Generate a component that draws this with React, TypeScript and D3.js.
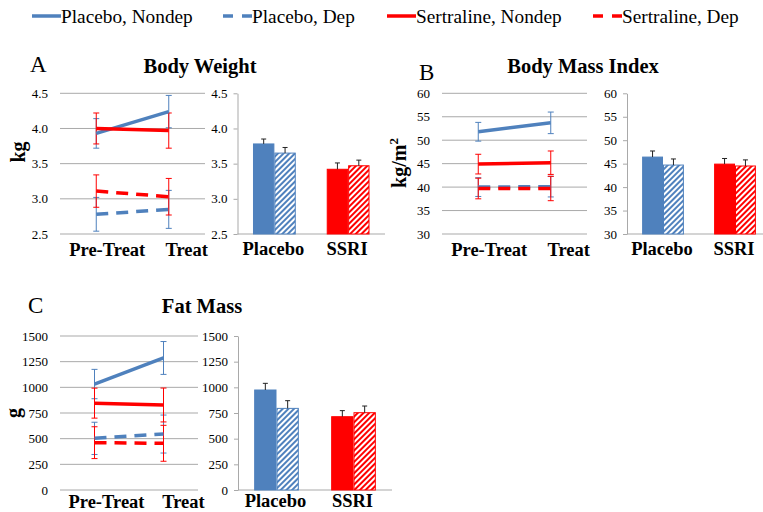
import { useEffect, useRef } from "react";
import * as d3 from "d3";

const seriesNames = ["Placebo, Nondep", "Placebo, Dep", "Sertraline, Nondep", "Sertraline, Dep"];
const seriesColors = ["#4f81bd", "#4f81bd", "#ff0000", "#ff0000"];
const seriesDashed = [false, true, false, true];
const timepoints = ["Pre-Treat", "Treat"];
const drugGroups = ["Placebo", "SSRI"];
const drugColors = ["#4f81bd", "#ff0000"];

// Body weight (kg), per series [pre, treat]
const weightMeans = [[3.93, 4.24], [2.78, 2.85], [4.0, 3.97], [3.11, 3.03]];
const weightErrs = [[0.21, 0.23], [0.24, 0.27], [0.22, 0.25], [0.23, 0.26]];
// bars per drug group [Nondep, Dep]
const weightBars = [[3.78, 3.65], [3.42, 3.47]];
const weightBarErrs = [[0.07, 0.08], [0.09, 0.08]];
const weightTicks = [2.5, 3.0, 3.5, 4.0, 4.5];

// Body mass index
const bmiMeans = [[51.8, 53.7], [40.0, 40.1], [44.9, 45.2], [39.7, 39.7]];
const bmiErrs = [[2.0, 2.3], [2.0, 2.2], [2.1, 2.5], [2.2, 2.6]];
const bmiBars = [[46.4, 44.7], [44.9, 44.5]];
const bmiBarErrs = [[1.3, 1.3], [1.2, 1.3]];
const bmiTicks = [30, 35, 40, 45, 50, 55, 60];

// Fat mass (g)
const fatMeans = [[1032, 1286], [503, 545], [846, 828], [461, 455]];
const fatErrs = [[143, 160], [157, 185], [146, 165], [155, 175]];
const fatBars = [[974, 795], [714, 753]];
const fatBarErrs = [[65, 75], [59, 65]];
const fatTicks = [0, 250, 500, 750, 1000, 1250, 1500];

const serif = "'Liberation Serif', 'Times New Roman', serif";
const gridColor = "#a9a9a9";

type Panel = {
    letter: string; title: string; ylabel: string; sup?: string;
    means: number[][]; errs: number[][]; bars: number[][]; barErrs: number[][];
    ticks: number[]; fmt: string;
    lineX: [number, number]; barX: [number, number]; top: number; bottom: number;
    letterPos: [number, number]; titlePos: [number, number]; ylabelPos: [number, number];
    labelY: number; labelDx: number[];
};

const panels: Panel[] = [
    {
        letter: "A", title: "Body Weight", ylabel: "kg",
        means: weightMeans, errs: weightErrs, bars: weightBars, barErrs: weightBarErrs,
        ticks: weightTicks, fmt: ".1f",
        lineX: [60, 205], barX: [237.5, 385], top: 93.3, bottom: 234,
        letterPos: [30, 72], titlePos: [200, 73], ylabelPos: [25, 152],
        labelY: 256, labelDx: [11, 18],
    },
    {
        letter: "B", title: "Body Mass Index", ylabel: "kg/m", sup: "2",
        means: bmiMeans, errs: bmiErrs, bars: bmiBars, barErrs: bmiBarErrs,
        ticks: bmiTicks, fmt: "d",
        lineX: [442, 587], barX: [627, 771], top: 93.3, bottom: 234,
        letterPos: [419, 80], titlePos: [583, 73], ylabelPos: [406, 163],
        labelY: 256, labelDx: [11, 18],
    },
    {
        letter: "C", title: "Fat Mass", ylabel: "g",
        means: fatMeans, errs: fatErrs, bars: fatBars, barErrs: fatBarErrs,
        ticks: fatTicks, fmt: "d",
        lineX: [60, 198], barX: [238, 392], top: 336, bottom: 490,
        letterPos: [28, 313], titlePos: [202, 313], ylabelPos: [20, 413],
        labelY: 508, labelDx: [12, 20],
    },
];

function drawPanel(svg: d3.Selection<SVGSVGElement, unknown, null, undefined>, p: Panel) {
    const y = d3.scaleLinear().domain([p.ticks[0], p.ticks[p.ticks.length - 1]]).range([p.bottom, p.top]);
    const x = d3.scalePoint<string>().domain(timepoints).range(p.lineX).padding(0.5);
    const xb = d3.scaleBand<string>().domain(drugGroups).range(p.barX);
    const g = svg.append("g");

    // panel letter and title
    g.append("text").attr("x", p.letterPos[0]).attr("y", p.letterPos[1])
        .attr("font-family", serif).attr("font-size", 23).text(p.letter);
    g.append("text").attr("x", p.titlePos[0]).attr("y", p.titlePos[1])
        .attr("text-anchor", "middle").attr("font-family", serif).attr("font-size", 20.5)
        .attr("font-weight", "bold").text(p.title);

    // y label
    const yl = g.append("text")
        .attr("transform", `translate(${p.ylabelPos[0]},${p.ylabelPos[1]}) rotate(-90)`)
        .attr("text-anchor", "middle").attr("font-family", serif).attr("font-size", 20)
        .attr("font-weight", "bold").text(p.ylabel);
    if (p.sup) {
        yl.append("tspan").attr("font-size", 13).attr("dy", -8).text(p.sup);
    }

    // line chart: gridlines
    g.append("g").selectAll("line").data(p.ticks).join("line")
        .attr("x1", p.lineX[0]).attr("x2", p.lineX[1])
        .attr("y1", d => y(d)).attr("y2", d => y(d))
        .attr("stroke", gridColor).attr("stroke-width", 1);

    const yAxis = g.append("g").attr("transform", `translate(${p.lineX[0]},0)`)
        .call(d3.axisLeft(y).tickValues(p.ticks).tickSize(0).tickPadding(12).tickFormat(d3.format(p.fmt)));
    yAxis.select(".domain").remove();
    yAxis.selectAll("text").attr("font-family", serif).attr("font-size", 13).attr("fill", "#000");

    // category labels
    g.append("g").selectAll("text").data(timepoints).join("text")
        .attr("x", (d, i) => (x(d) ?? 0) + p.labelDx[i]).attr("y", p.labelY)
        .attr("text-anchor", "middle").attr("font-family", serif).attr("font-size", 18.5)
        .attr("font-weight", "bold").text(d => d);

    // error bars
    p.means.forEach((row, si) => {
        const eg = g.append("g").attr("stroke", seriesColors[si]).attr("stroke-width", 1);
        row.forEach((m, ti) => {
            const cx = x(timepoints[ti]) ?? 0;
            const e = p.errs[si][ti];
            eg.append("line").attr("x1", cx).attr("x2", cx).attr("y1", y(m + e)).attr("y2", y(m - e));
            eg.append("line").attr("x1", cx - 3).attr("x2", cx + 3).attr("y1", y(m + e)).attr("y2", y(m + e));
            eg.append("line").attr("x1", cx - 3).attr("x2", cx + 3).attr("y1", y(m - e)).attr("y2", y(m - e));
        });
    });

    // lines
    const line = d3.line<number>().x((_, i) => x(timepoints[i]) ?? 0).y(d => y(d));
    p.means.forEach((row, si) => {
        g.append("path").datum(row).attr("d", line)
            .attr("fill", "none").attr("stroke", seriesColors[si]).attr("stroke-width", 3.5)
            .attr("stroke-dasharray", seriesDashed[si] ? "12,8" : null);
    });

    // bar chart axis
    const bAxis = g.append("g").attr("transform", `translate(${p.barX[0]},0)`)
        .call(d3.axisLeft(y).tickValues(p.ticks).tickSize(4).tickSizeOuter(0).tickPadding(6).tickFormat(d3.format(p.fmt)));
    bAxis.select(".domain").attr("stroke", gridColor);
    bAxis.selectAll(".tick line").attr("stroke", gridColor);
    bAxis.selectAll("text").attr("font-family", serif).attr("font-size", 13).attr("fill", "#000");
    g.append("line").attr("x1", p.barX[0]).attr("x2", p.barX[1])
        .attr("y1", p.bottom).attr("y2", p.bottom).attr("stroke", gridColor);

    const bw = xb.bandwidth() * 0.29;
    p.bars.forEach((pair, ci) => {
        const cx = (xb(drugGroups[ci]) ?? 0) + xb.bandwidth() / 2;
        pair.forEach((v, k) => {
            const x0 = cx - bw + k * bw;
            g.append("rect").attr("x", x0 + 0.5).attr("y", y(v)).attr("width", bw - 1).attr("height", y(p.ticks[0]) - y(v))
                .attr("fill", k === 0 ? drugColors[ci] : `url(#hatch${ci})`)
                .attr("stroke", drugColors[ci]).attr("stroke-width", 1);
            const bx = x0 + bw / 2;
            const top = y(v + p.barErrs[ci][k]);
            g.append("line").attr("x1", bx).attr("x2", bx).attr("y1", y(v)).attr("y2", top).attr("stroke", "#222");
            g.append("line").attr("x1", bx - 2.5).attr("x2", bx + 2.5).attr("y1", top).attr("y2", top).attr("stroke", "#222");
        });
    });

    g.append("g").selectAll("text").data(drugGroups).join("text")
        .attr("x", d => (xb(d) ?? 0) + xb.bandwidth() / 2 - 1).attr("y", p.labelY - 1)
        .attr("text-anchor", "middle").attr("font-family", serif).attr("font-size", 18.5)
        .attr("font-weight", "bold").text(d => d);
}

const legendX = [32, 223, 387, 593];

function App() {
    const svgRef = useRef<SVGSVGElement>(null);

    useEffect(() => {
        if (!svgRef.current) return;
        const svg = d3.select(svgRef.current);
        svg.selectAll("*").remove();

        const defs = svg.append("defs");
        drugColors.forEach((c, i) => {
            const pat = defs.append("pattern").attr("id", `hatch${i}`)
                .attr("patternUnits", "userSpaceOnUse").attr("width", 4).attr("height", 4)
                .attr("patternTransform", "rotate(45)");
            pat.append("rect").attr("width", 4).attr("height", 4).attr("fill", "#fff");
            pat.append("line").attr("x1", 1).attr("x2", 1).attr("y1", 0).attr("y2", 4)
                .attr("stroke", c).attr("stroke-width", 2);
        });

        // legend
        const lg = svg.append("g");
        seriesNames.forEach((name, i) => {
            lg.append("line").attr("x1", legendX[i]).attr("x2", legendX[i] + 29).attr("y1", 16).attr("y2", 16)
                .attr("stroke", seriesColors[i]).attr("stroke-width", 3.5)
                .attr("stroke-dasharray", seriesDashed[i] ? "10,9" : null);
            lg.append("text").attr("x", legendX[i] + 29).attr("y", 23)
                .attr("font-family", serif).attr("font-size", 19.3).text(name);
        });

        panels.forEach(p => drawPanel(svg, p));
    }, []);

    return (
        <svg ref={svgRef} width={763} height={512}
            style={{ position: "absolute", left: 0, top: 0, background: "#fff" }} />
    );
}

export default App;
